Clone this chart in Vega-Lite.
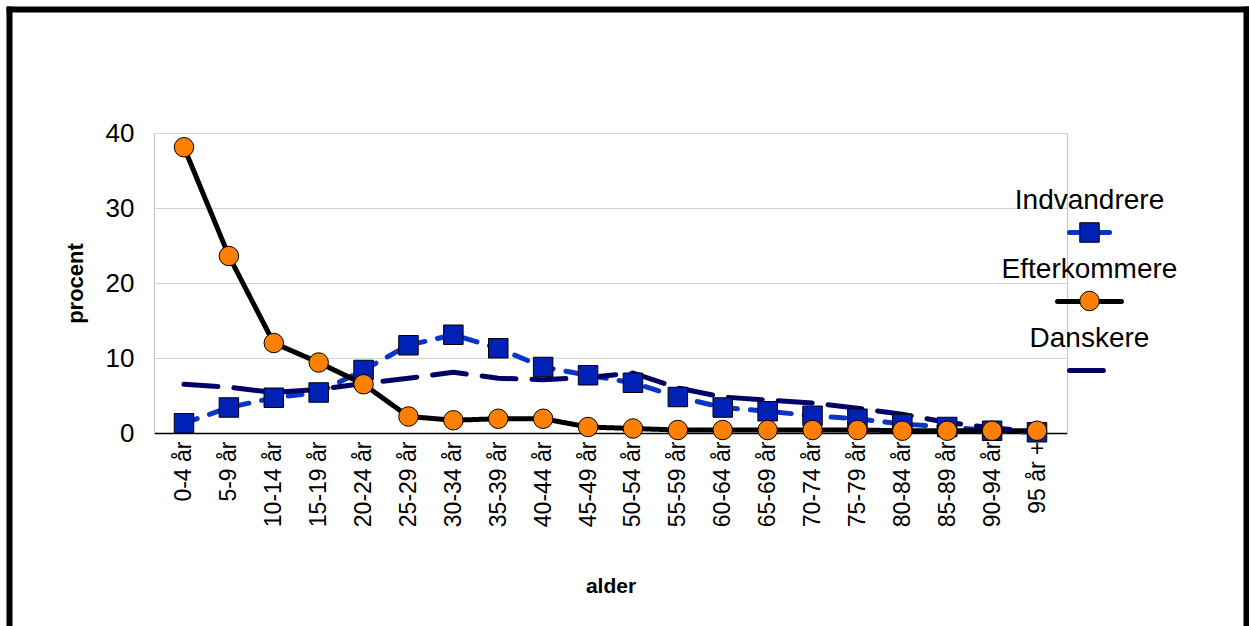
{
  "$schema": "https://vega.github.io/schema/vega-lite/v6.json",
  "width": 1237,
  "height": 617,
  "autosize": {"type": "none"},
  "padding": {"left": 9, "top": 9, "right": 3, "bottom": 0},
  "config": {
    "view": {"stroke": null},
    "font": "Liberation Sans",
    "axis": {"labelFont": "Liberation Sans", "titleFont": "Liberation Sans"},
    "legend": {"labelFont": "Liberation Sans", "titleFont": "Liberation Sans"}
  },
  "datasets": {
    "d": [
      {"alder": "0-4 år", "serie": "Indvandrere", "procent": 1.3},
      {"alder": "5-9 år", "serie": "Indvandrere", "procent": 3.4},
      {"alder": "10-14 år", "serie": "Indvandrere", "procent": 4.7},
      {"alder": "15-19 år", "serie": "Indvandrere", "procent": 5.4},
      {"alder": "20-24 år", "serie": "Indvandrere", "procent": 8.4},
      {"alder": "25-29 år", "serie": "Indvandrere", "procent": 11.7},
      {"alder": "30-34 år", "serie": "Indvandrere", "procent": 13.1},
      {"alder": "35-39 år", "serie": "Indvandrere", "procent": 11.3},
      {"alder": "40-44 år", "serie": "Indvandrere", "procent": 8.8},
      {"alder": "45-49 år", "serie": "Indvandrere", "procent": 7.7},
      {"alder": "50-54 år", "serie": "Indvandrere", "procent": 6.7},
      {"alder": "55-59 år", "serie": "Indvandrere", "procent": 4.8},
      {"alder": "60-64 år", "serie": "Indvandrere", "procent": 3.4},
      {"alder": "65-69 år", "serie": "Indvandrere", "procent": 2.9},
      {"alder": "70-74 år", "serie": "Indvandrere", "procent": 2.3},
      {"alder": "75-79 år", "serie": "Indvandrere", "procent": 1.9},
      {"alder": "80-84 år", "serie": "Indvandrere", "procent": 1.2},
      {"alder": "85-89 år", "serie": "Indvandrere", "procent": 0.8},
      {"alder": "90-94 år", "serie": "Indvandrere", "procent": 0.3},
      {"alder": "95 år +", "serie": "Indvandrere", "procent": 0.1},
      {"alder": "0-4 år", "serie": "Efterkommere", "procent": 38.1},
      {"alder": "5-9 år", "serie": "Efterkommere", "procent": 23.6},
      {"alder": "10-14 år", "serie": "Efterkommere", "procent": 12.0},
      {"alder": "15-19 år", "serie": "Efterkommere", "procent": 9.4},
      {"alder": "20-24 år", "serie": "Efterkommere", "procent": 6.5},
      {"alder": "25-29 år", "serie": "Efterkommere", "procent": 2.2},
      {"alder": "30-34 år", "serie": "Efterkommere", "procent": 1.7},
      {"alder": "35-39 år", "serie": "Efterkommere", "procent": 1.9},
      {"alder": "40-44 år", "serie": "Efterkommere", "procent": 1.9},
      {"alder": "45-49 år", "serie": "Efterkommere", "procent": 0.8},
      {"alder": "50-54 år", "serie": "Efterkommere", "procent": 0.6},
      {"alder": "55-59 år", "serie": "Efterkommere", "procent": 0.4},
      {"alder": "60-64 år", "serie": "Efterkommere", "procent": 0.4},
      {"alder": "65-69 år", "serie": "Efterkommere", "procent": 0.4},
      {"alder": "70-74 år", "serie": "Efterkommere", "procent": 0.4},
      {"alder": "75-79 år", "serie": "Efterkommere", "procent": 0.4},
      {"alder": "80-84 år", "serie": "Efterkommere", "procent": 0.3},
      {"alder": "85-89 år", "serie": "Efterkommere", "procent": 0.3},
      {"alder": "90-94 år", "serie": "Efterkommere", "procent": 0.3},
      {"alder": "95 år +", "serie": "Efterkommere", "procent": 0.3},
      {"alder": "0-4 år", "serie": "Danskere", "procent": 6.5},
      {"alder": "5-9 år", "serie": "Danskere", "procent": 6.1},
      {"alder": "10-14 år", "serie": "Danskere", "procent": 5.4},
      {"alder": "15-19 år", "serie": "Danskere", "procent": 5.8},
      {"alder": "20-24 år", "serie": "Danskere", "procent": 6.6},
      {"alder": "25-29 år", "serie": "Danskere", "procent": 7.3},
      {"alder": "30-34 år", "serie": "Danskere", "procent": 8.1},
      {"alder": "35-39 år", "serie": "Danskere", "procent": 7.3},
      {"alder": "40-44 år", "serie": "Danskere", "procent": 7.1},
      {"alder": "45-49 år", "serie": "Danskere", "procent": 7.4},
      {"alder": "50-54 år", "serie": "Danskere", "procent": 8.0},
      {"alder": "55-59 år", "serie": "Danskere", "procent": 6.0},
      {"alder": "60-64 år", "serie": "Danskere", "procent": 4.8},
      {"alder": "65-69 år", "serie": "Danskere", "procent": 4.4},
      {"alder": "70-74 år", "serie": "Danskere", "procent": 4.0},
      {"alder": "75-79 år", "serie": "Danskere", "procent": 3.3},
      {"alder": "80-84 år", "serie": "Danskere", "procent": 2.5},
      {"alder": "85-89 år", "serie": "Danskere", "procent": 1.4},
      {"alder": "90-94 år", "serie": "Danskere", "procent": 0.7},
      {"alder": "95 år +", "serie": "Danskere", "procent": 0.1}
    ]
  },
  "data": {"name": "d"},
  "layer": [
    {
      "mark": {"type": "point", "opacity": 0},
      "encoding": {
        "x": {"field": "alder", "type": "ordinal", "axis": {"orient": "top", "domainColor": "#000", "domainWidth": 6, "domainCap": "square", "labels": false, "ticks": false, "grid": false, "title": null}},
        "y": {"field": "procent", "type": "quantitative", "axis": {"orient": "left", "domainColor": "#000", "domainWidth": 6, "domainCap": "square", "labels": false, "ticks": false, "grid": false, "title": null}}
      }
    },
    {
      "mark": {"type": "point", "opacity": 0},
      "encoding": {
        "y": {"field": "procent", "type": "quantitative", "axis": {"orient": "right", "domainColor": "#000", "domainWidth": 6, "domainCap": "square", "labels": false, "ticks": false, "grid": false, "title": null}}
      }
    },
    {
      "mark": {"type": "point", "opacity": 0},
      "encoding": {
        "y": {"field": "procent", "type": "quantitative", "scale": {"domain": [0, 40], "range": [424, 124], "nice": false}, "axis": {"orient": "right", "offset": -179, "domainColor": "#c8c8c8", "domainWidth": 1.2, "labels": false, "ticks": false, "grid": false, "title": null}}
      }
    },
    {
      "mark": {"type": "line", "strokeWidth": 5, "strokeCap": "round", "strokeJoin": "round"},
      "encoding": {
        "x": {
          "field": "alder", "type": "ordinal",
          "scale": {"type": "point", "domain": ["0-4 år", "5-9 år", "10-14 år", "15-19 år", "20-24 år", "25-29 år", "30-34 år", "35-39 år", "40-44 år", "45-49 år", "50-54 år", "55-59 år", "60-64 år", "65-69 år", "70-74 år", "75-79 år", "80-84 år", "85-89 år", "90-94 år", "95 år +"], "range": [145, 1058], "padding": 0.668},
          "axis": {"orient": "bottom", "offset": -193, "domainColor": "#000", "domainWidth": 1.5, "ticks": false, "tickSize": 0, "grid": false, "labelAngle": -90, "labelPadding": 8, "labelFontSize": 23, "labelColor": "#000", "title": "alder", "titleFontSize": 21, "titleFontWeight": "bold", "titleColor": "#000", "titlePadding": 49}
        },
        "y": {
          "field": "procent", "type": "quantitative",
          "scale": {"domain": [0, 40], "range": [424, 124], "nice": false},
          "axis": {"orient": "left", "offset": -145, "values": [0, 10, 20, 30, 40], "grid": true, "gridColor": "#d4d4d4", "gridWidth": 1.2, "domainColor": "#c8c8c8", "domainWidth": 1.2, "ticks": false, "tickSize": 0, "labelPadding": 20, "labelFontSize": 26, "labelColor": "#000", "title": "procent", "titleFontSize": 22, "titleFontWeight": "bold", "titleColor": "#000", "titlePadding": 18}
        },
        "stroke": {
          "field": "serie", "type": "nominal",
          "scale": {"domain": ["Indvandrere", "Efterkommere", "Danskere"], "range": ["#0a35c8", "#000000", "#000066"]},
          "legend": {
            "orient": "none", "legendX": 1044, "legendY": 187, "title": null, "padding": 0,
            "symbolType": "stroke", "symbolSize": 4624, "symbolStrokeWidth": 5,
            "labelFontSize": 28, "labelColor": "#000", "labelAlign": "center", "labelBaseline": "alphabetic", "labelOffset": -36.5, "labelLimit": 0,
            "rowPadding": 5,
            "encoding": {
              "symbols": {
                "shape": {"condition": {"test": "datum.value === 'Efterkommere'", "value": "M-0.94,0L0.94,0M0,-0.22M0,0.22"}, "value": "M-0.59,0L0.59,0M0,-0.22M0,0.22"},
                "strokeCap": {"value": "round"}
              },
              "labels": {"dy": {"value": -24}}
            }
          }
        },
        "strokeDash": {
          "field": "serie", "type": "nominal",
          "scale": {"domain": ["Indvandrere", "Efterkommere", "Danskere"], "range": [[14, 13], [1, 0], [34, 16]]},
          "legend": null
        }
      }
    },
    {
      "transform": [{"filter": "datum.serie !== 'Danskere'"}],
      "mark": {"type": "point", "filled": true, "stroke": "#000", "strokeWidth": 1, "opacity": 1, "size": 380},
      "encoding": {
        "x": {
          "field": "alder", "type": "ordinal",
          "scale": {"type": "point", "domain": ["0-4 år", "5-9 år", "10-14 år", "15-19 år", "20-24 år", "25-29 år", "30-34 år", "35-39 år", "40-44 år", "45-49 år", "50-54 år", "55-59 år", "60-64 år", "65-69 år", "70-74 år", "75-79 år", "80-84 år", "85-89 år", "90-94 år", "95 år +"], "range": [145, 1058], "padding": 0.668},
          "axis": null
        },
        "y": {"field": "procent", "type": "quantitative", "scale": {"domain": [0, 40], "range": [424, 124], "nice": false}, "axis": null},
        "fill": {
          "field": "serie", "type": "nominal",
          "scale": {"domain": ["Indvandrere", "Efterkommere"], "range": ["#0021b5", "#ff8000"]},
          "legend": {
            "orient": "none", "legendX": 1044, "legendY": 209.5, "title": null, "padding": 0,
            "symbolSize": 380, "symbolStrokeWidth": 1, "symbolStrokeColor": "#000", "symbolOffset": 22.5,
            "labelFontSize": 28, "labelExpr": "''", "labelLimit": 0,
            "rowPadding": 40.5, "zindex": 1
          }
        },
        "shape": {
          "field": "serie", "type": "nominal",
          "scale": {"domain": ["Indvandrere", "Efterkommere"], "range": ["square", "circle"]}
        }
      }
    }
  ],
  "resolve": {
    "scale": {"x": "independent", "y": "independent"},
    "axis": {"x": "independent", "y": "independent"}
  }
}
